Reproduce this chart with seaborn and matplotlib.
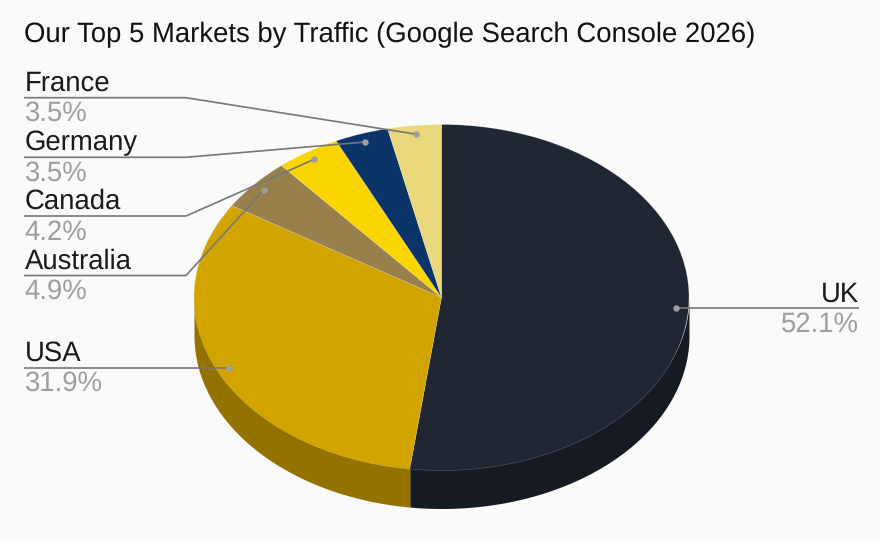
# 3D style pie chart of top markets
import numpy as np
import matplotlib.pyplot as plt
import seaborn as sns

markets = ["UK", "USA", "Australia", "Canada", "Germany", "France"]
shares = [52.1, 31.9, 4.9, 4.2, 3.5, 3.5]
pct_labels = ["52.1%", "31.9%", "4.9%", "4.2%", "3.5%", "3.5%"]
top_colors = ["#202733", "#d1a400", "#98804c", "#fbd500", "#0b3468", "#e9d97c"]
side_colors = ["#161a23", "#947200", "#66552f", "#a88f00", "#072345", "#9c9153"]

W, H = 880, 541
CX, CY, RX, RY, DEPTH = 441.5, 297.5, 247.5, 173, 38

sns.set_theme(style="white", palette=top_colors)
plt.rcParams["font.family"] = ["Liberation Sans", "DejaVu Sans"]
plt.rcParams["text.hinting"] = "none"

BG = "#fafafa"
fig = plt.figure(figsize=(W / 100, H / 100), dpi=100, facecolor=BG)
ax = fig.add_axes([0, 0, 1, 1])


# pixel position in the reference -> pie data units
def px(x, y):
    return (x - CX) / RX, (CY - y) / RY


d = DEPTH / RY
fracs = np.array(shares) / sum(shares)
edges = np.concatenate([[0], np.cumsum(fracs)]) * 2 * np.pi  # clockwise from top

# side wall, only the part of each slice facing the viewer
# (top edge tucked a bit under the pie so no seam shows through)
for i in range(len(shares)):
    a0 = max(edges[i], np.pi / 2)
    a1 = min(edges[i + 1], 3 * np.pi / 2)
    if a1 <= a0:
        continue
    t = np.linspace(a0, a1, 200)
    ax.fill_between(np.sin(t), 0.97 * np.cos(t), np.cos(t) - d, color=side_colors[i], lw=0)

ax.pie(shares, colors=top_colors, startangle=90, counterclock=False, radius=1,
       wedgeprops=dict(linewidth=0.4, edgecolor="#ffffff44"), normalize=True)

ax.set_aspect("auto")
x0, y1 = px(0, 0)
x1, y0 = px(W, H)
ax.set_xlim(x0, x1)
ax.set_ylim(y0, y1)
ax.axis("off")

# leader lines: y of the label rule, elbow x (None when the rule is straight)
rule_y = [308.7, 367.7, 275.5, 216, 157.3, 97.7]
elbow_x = [None, None, 186, 186, 186, 186]
LINE = "#777777"
DOT = "#9e9e9e"

for i, name in enumerate(markets):
    mid = (edges[i] + edges[i + 1]) / 2
    dx, dy = 0.95 * np.sin(mid), 0.95 * np.cos(mid)
    y = rule_y[i]
    right = name == "UK"
    end = 859 if right else 24
    xs, ys = [dx], [dy]
    if elbow_x[i] is not None:
        ex, ey = px(elbow_x[i], y)
        xs.append(ex)
        ys.append(ey)
    ex, ey = px(end, y)
    xs.append(ex)
    ys.append(dy if elbow_x[i] is None else ey)
    ax.plot(xs, ys, color=LINE, lw=1.2, zorder=5, solid_capstyle="butt")
    ax.plot([dx], [dy], "o", color=DOT, ms=4.6, mew=0, zorder=6)

    lx, ly = px(end + (0 if right else 0.5), y - 7)
    ax.text(lx, ly, name, fontsize=19.8, color="#1a1a1a", va="baseline",
            ha="right" if right else "left")
    lx, ly = px(end + (0 if right else 0.5), y + 23.5)
    ax.text(lx, ly, pct_labels[i], fontsize=19.8, color="#9e9e9e", va="baseline",
            ha="right" if right else "left")

tx, ty = px(24.5, 42)
ax.text(tx, ty, "Our Top 5 Markets by Traffic (Google Search Console 2026)",
        fontsize=19.8, color="#111111", va="baseline", ha="left")

fig.savefig("out.png", dpi=100, facecolor=BG)
